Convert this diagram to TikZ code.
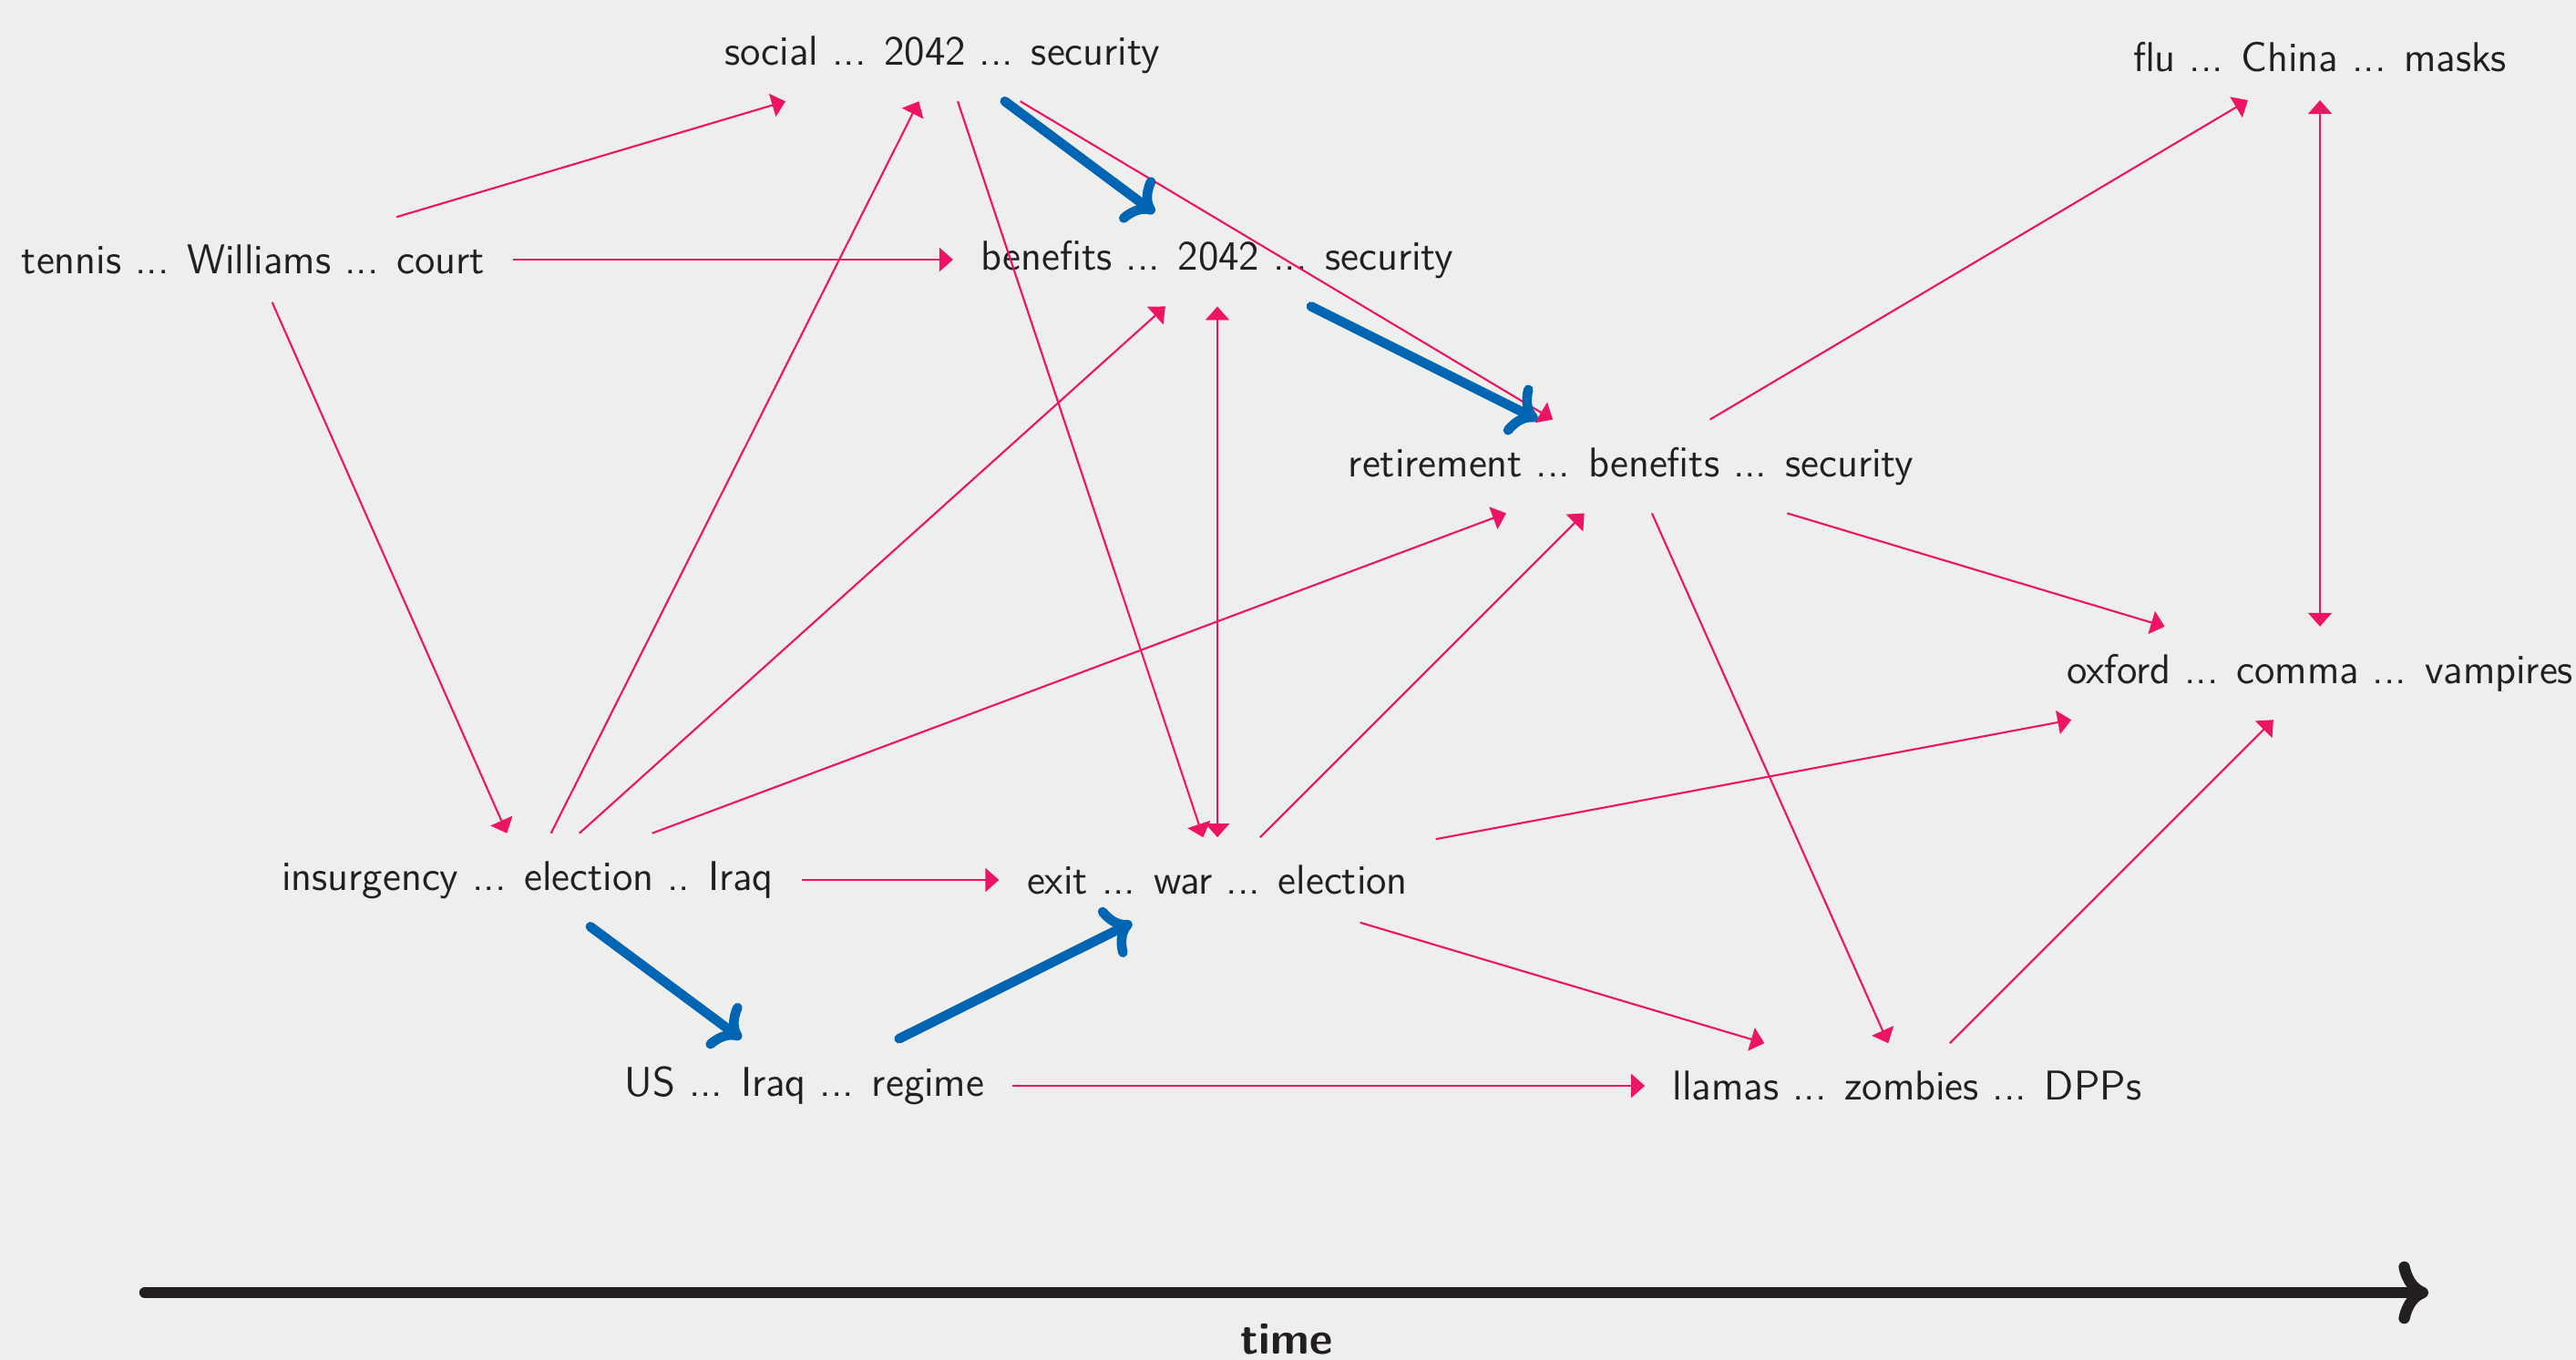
\documentclass[tikz,border=0pt]{standalone}
\usepackage{fontspec}
\usetikzlibrary{arrows.meta}

\definecolor{slidebg}{RGB}{238,238,236}
\definecolor{linkpink}{RGB}{236,20,99}
\definecolor{threadblue}{RGB}{0,101,178}
\definecolor{inkdark}{RGB}{35,31,32}

\begin{document}
\begin{tikzpicture}[font=\sffamily\fontsize{13}{16}\selectfont, text=inkdark,
    topic/.style={inner sep=3mm},
    link/.style={draw=linkpink, line width=0.6pt, >={Triangle[width=2.6mm,length=1.5mm]}, ->},
    thread/.style={draw=threadblue, line width=3pt, line cap=round, ->},
    timeline/.style={draw=inkdark, line width=3.5pt, line cap=round, ->}]
    \fill[slidebg] (0,0) rectangle (28.27,-14.93);
    \useasboundingbox (0,0) rectangle (28.27,-14.93);

    % Nodes
    \node[topic] (social) at (10.34,-0.60) {social ... 2042 ... security};
    \node[topic] (tennis) at (2.78,-2.85) {tennis ... Williams ... court};
    \node[topic] (benefits) at (13.36,-2.85) {benefits ... 2042 ... security};
    \node[topic] (retirement) at (17.90,-5.12) {retirement ... benefits ... security};
    \node[topic] (flu) at (25.46,-0.63) {flu ... China ... masks};
    \node[topic] (oxford) at (25.46,-7.39) {oxford ... comma ... vampires};
    \node[topic] (insurgency) at (5.79,-9.66) {insurgency ... election .. Iraq};
    \node[topic] (exit) at (13.36,-9.66) {exit ... war ... election};
    \node[topic] (us) at (8.83,-11.92) {US ... Iraq ... regime};
    \node[topic] (llamas) at (20.93,-11.92) {llamas ... zombies ... DPPs};

    % Lines
    \draw[link] (tennis) -- (social);
    \draw[link] (tennis) -- (benefits);
    \draw[link] (tennis) -- (insurgency);
    \draw[link] (insurgency) -- (social);
    \draw[link] (insurgency) -- (benefits);
    \draw[link] (insurgency) -- (retirement);
    \draw[link] (insurgency) -- (exit);
    \draw[link] (social) -- (exit);
    \draw[link] (social) -- (retirement);
    \draw[link, <->] (benefits) -- (exit);
    \draw[link] (exit) -- (retirement);
    \draw[link] (exit) -- (oxford);
    \draw[link] (exit) -- (llamas);
    \draw[link] (us) -- (llamas);
    \draw[link] (retirement) -- (llamas);
    \draw[link] (retirement) -- (oxford);
    \draw[link] (retirement) -- (flu);
    \draw[link] (llamas) -- (oxford);
    \draw[link, <->] (flu) -- (oxford);

    \draw[thread] (social) -- (benefits);
    \draw[thread] (benefits) -- (retirement);
    \draw[thread] (insurgency) -- (us);
    \draw[thread] (us) -- (exit);

    % Time axis
    \coordinate (tstart) at (1.59,-14.19);
    \coordinate (tend) at (26.65,-14.19);
    \draw[timeline] (tstart) -- (tend);
    \node[inner sep=0pt, font=\sffamily\bfseries\fontsize{14}{17}\selectfont] (timelabel) at (14.12,-14.70) {time};
\end{tikzpicture}
\end{document}
